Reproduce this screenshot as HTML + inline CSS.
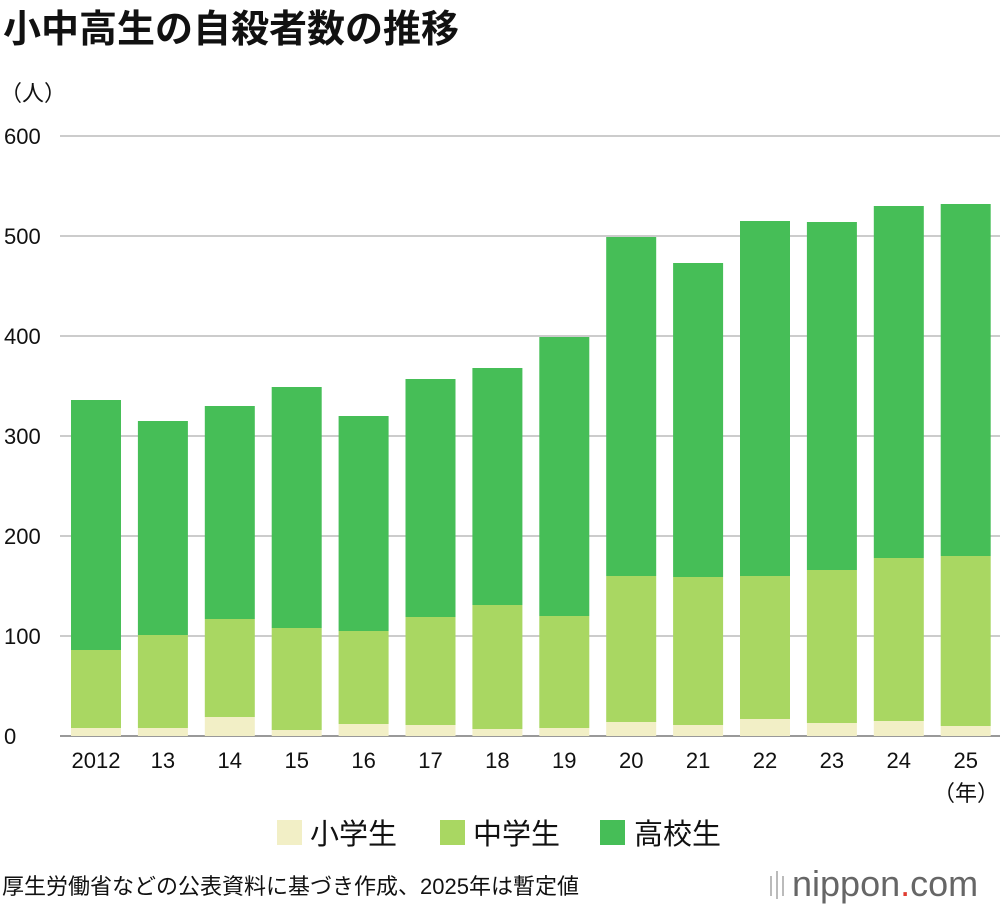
<!DOCTYPE html>
<html><head><meta charset="utf-8">
<style>
body{margin:0;background:#fff;font-family:"Liberation Sans","Noto Sans CJK JP",sans-serif;}
#wrap{position:relative;width:1000px;height:906px;overflow:hidden;}
</style></head>
<body><div id="wrap">
<svg id="chart" width="1000" height="906" xmlns="http://www.w3.org/2000/svg">
<text x="3" y="42" font-size="38" font-weight="bold" fill="#111" font-family="Liberation Sans, Noto Sans CJK JP, sans-serif">小中高生の自殺者数の推移</text>
<text x="0" y="101" font-size="22" fill="#111" font-family="Liberation Sans, Noto Sans CJK JP, sans-serif">（人）</text>
<g id="grid"></g><g id="bars"></g><g id="xlabels"></g>
<text x="966" y="801" font-size="22" text-anchor="middle" fill="#111" font-family="Liberation Sans, Noto Sans CJK JP, sans-serif">（年）</text>
<g font-size="29" fill="#111" font-family="Liberation Sans, Noto Sans CJK JP, sans-serif">
<rect x="277" y="820" width="25" height="25" fill="#f2efc6"/>
<text x="310" y="844">小学生</text>
<rect x="440" y="820" width="25" height="25" fill="#a9d762"/>
<text x="473" y="844">中学生</text>
<rect x="600" y="820" width="25" height="25" fill="#46be57"/>
<text x="634" y="844">高校生</text>
</g>
<text x="2" y="894" font-size="22" fill="#111" font-family="Liberation Sans, Noto Sans CJK JP, sans-serif">厚生労働省などの公表資料に基づき作成、2025年は暫定値</text>
<g>
<rect x="770" y="876" width="2" height="20" fill="#bbb"/><rect x="776" y="871" width="2" height="28" fill="#bbb"/><rect x="782" y="876" width="2" height="20" fill="#bbb"/>
<text x="792" y="896" font-size="36" fill="#666" font-family="Liberation Sans, sans-serif">nippon<tspan fill="#e03c31">.</tspan>com</text>
</g>
</svg>
<script>
const categories=["2012","13","14","15","16","17","18","19","20","21","22","23","24","25"];
const elementary=[8,8,19,6,12,11,7,8,14,11,17,13,15,10];
const middle=[78,93,98,102,93,108,124,112,146,148,143,153,163,170];
const high=[250,214,213,241,215,238,237,279,339,314,355,348,352,352];
const yTicks=[0,100,200,300,400,500,600];
const NS="http://www.w3.org/2000/svg";
const y0=736,yScale=1.0,x0=96,step=66.9,bw=50;
function yPos(v){return y0-v*yScale;}
function xPos(i){return x0+i*step;}
const grid=document.getElementById('grid');
yTicks.forEach(t=>{
 const l=document.createElementNS(NS,'line');
 l.setAttribute('x1',60);l.setAttribute('x2',1000);l.setAttribute('y1',yPos(t));l.setAttribute('y2',yPos(t));
 l.setAttribute('stroke',t===0?'#999':'#ccc');l.setAttribute('stroke-width',2);
 
 
 grid.appendChild(l);
 const tx=document.createElementNS(NS,'text');
 tx.setAttribute('x',4);tx.setAttribute('y',yPos(t)+8);tx.setAttribute('font-size','22');tx.setAttribute('fill','#111');
 tx.textContent=t;
 
 
 grid.appendChild(tx);
});
const bars=document.getElementById('bars'),xl=document.getElementById('xlabels');
const series=[[elementary,'#f2efc6','elementary'],[middle,'#a9d762','middle'],[high,'#46be57','high']];
categories.forEach((c,i)=>{
 let base=0;
 series.forEach(([arr,col,nm])=>{
  const r=document.createElementNS(NS,'rect');
  r.setAttribute('x',xPos(i)-bw/2);r.setAttribute('width',bw);
  r.setAttribute('y',yPos(base+arr[i]));r.setAttribute('height',arr[i]*yScale);
  r.setAttribute('fill',col);
  
  
  bars.appendChild(r);base+=arr[i];
 });
 const t=document.createElementNS(NS,'text');
 t.setAttribute('x',xPos(i));t.setAttribute('y',768);t.setAttribute('font-size','22');
 t.setAttribute('text-anchor','middle');t.setAttribute('fill','#111');t.textContent=c;
 
 
 xl.appendChild(t);
});
</script>
</div></body></html>
